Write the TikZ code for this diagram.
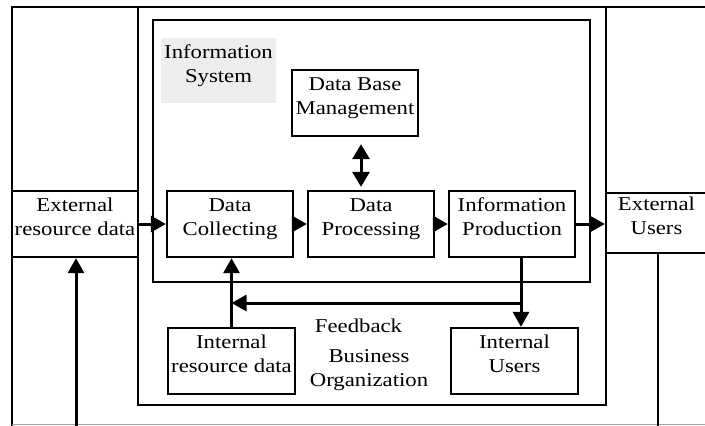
\documentclass[tikz,border=0pt]{standalone}
\usepackage{fontspec}
\setmainfont[FakeStretch=1.16]{Liberation Serif}
\usetikzlibrary{arrows.meta,calc}
\newcommand{\topstrut}{\rule{0pt}{14pt}}
\newcommand{\botstrut}{\rule[-14pt]{0pt}{14pt}}
\tikzset{
  lbl/.style={inner sep=0pt, align=center, font=\fontsize{19.6}{24}\selectfont},
  twoline/.style={lbl, execute at begin node=\topstrut, execute at end node=\botstrut},
  box/.style={twoline, draw, line width=2.3pt, minimum width=126pt, minimum height=66pt},
  frameline/.style={line width=2.3pt},
  region/.style={draw, line width=2.3pt, inner sep=0pt},
  arr/.style={line width=3pt, -{Triangle[length=15pt,width=16pt]}},
  dbl/.style={line width=3pt, {Triangle[length=15pt,width=17pt]}-{Triangle[length=15pt,width=17pt]}}
}
\begin{document}
\begin{tikzpicture}[x=1pt,y=-1pt]
\useasboundingbox (0,0) rectangle (705,426);
\coordinate (bot) at (0,426);
% outer frame
\draw[frameline] (12,426) -- (12,7) -- (705,7);
\draw[gray!75, line width=1.5pt] (12,424.5) -- (705,424.5);
% business organization and information system regions
\node[region, minimum width=468pt, minimum height=398pt] (bo) at (372,206) {};
\node[region, minimum width=437pt, minimum height=262pt] (is) at (371.5,151) {};
\node[twoline, fill=black!7, minimum width=115pt, minimum height=65pt] (isl) at (218.5,70.5) {Information\\System};
% boxes
\node[box] (ext) at (75,224) {External\\resource data};
\node[box, minimum width=101pt, minimum height=60pt] (eu) at (656.5,223) {External\\Users};
\node[box] (dbm) at (355,103) {Data Base\\Management};
\node[box] (dc) at (230,224) {Data\\Collecting};
\node[box] (dp) at (371,224) {Data\\Processing};
\node[box] (ip) at (512,224) {Information\\Production};
\node[box, minimum width=127pt] (ird) at (231.5,361) {Internal\\resource data};
\node[box, minimum width=127pt] (iu) at (514.5,361) {Internal\\Users};
% labels
\node[lbl, anchor=base] (fbt) at (358.5,332) {Feedback};
\node[twoline] (bot2) at (369,375) {Business\\Organization};
% connectors
\draw[arr] (ext.east) -- (dc.west);
\draw[arr] (dc.east) -- (dp.west);
\draw[arr] (dp.east) -- (ip.west);
\draw[arr] (ip.east) -- (ip.east -| eu.west);
\draw[dbl, shorten <=7pt, shorten >=3pt] ([xshift=6pt]dbm.south) -- ([xshift=6pt]dbm.south |- dp.north);
\coordinate (fb) at (521,303);
\draw[arr] (ip.south -| fb) |- (fb -| ird.north);
\draw[arr] (fb) -- (fb |- iu.north);
\draw[arr] (ird.north) -- (ird.north |- dc.south);
\draw[arr] ([xshift=1pt]ext.south |- bot) -- ([xshift=1pt]ext.south);
\draw[frameline] ([xshift=1.5pt]eu.south) -- ([xshift=1.5pt]eu.south |- bot);
\end{tikzpicture}
\end{document}
